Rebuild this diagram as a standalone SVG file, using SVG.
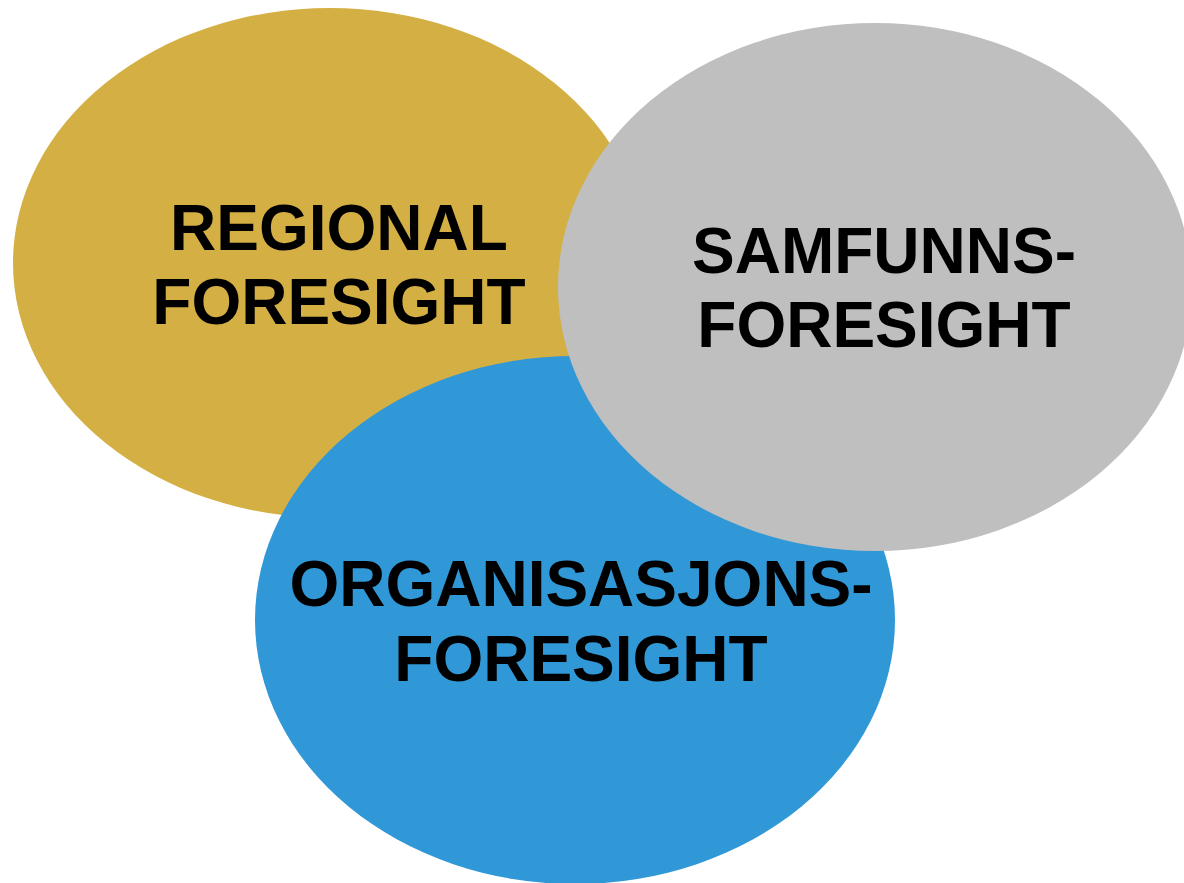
<svg xmlns="http://www.w3.org/2000/svg" width="1184" height="883" viewBox="0 0 1184 883">
<style>
text{font-family:"Liberation Sans",Arial,sans-serif;font-weight:bold;font-size:64px;fill:#000;text-anchor:middle}
</style>
<rect width="1184" height="883" fill="#fff"/>
<g id="regional">
<ellipse cx="330" cy="263" rx="317" ry="255" fill="#D4AF44"/>
<text x="339" y="250">REGIONAL</text>
<text x="339" y="324">FORESIGHT</text>
</g>
<g id="organisasjons">
<ellipse cx="575" cy="620" rx="320" ry="264" fill="#3198D7"/>
<text x="581" y="606">ORGANISASJONS-</text>
<text x="581" y="681">FORESIGHT</text>
</g>
<g id="samfunns">
<ellipse cx="875" cy="287" rx="317" ry="264" fill="#BFBFBF"/>
<text x="884" y="273">SAMFUNNS-</text>
<text x="884" y="347">FORESIGHT</text>
</g>
<g id="connectors"/>
</svg>
